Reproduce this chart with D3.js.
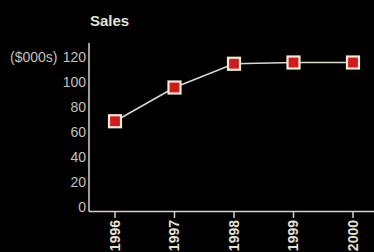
<!DOCTYPE html>
<meta charset="utf-8">
<script src="https://d3js.org/d3.v7.min.js"></script>
<style>
  body { margin: 0; background: #000; }
  text { font-family: "Liberation Sans", Arial, sans-serif; }
</style>
<body>
<div id="chart"></div>
<script>
  // data
  var years = ["1996", "1997", "1998", "1999", "2000"];
  var sales = [69, 96, 115, 116, 116];
  var yTicks = [0, 20, 40, 60, 80, 100, 120];

  var width = 374, height = 252;
  var ink = "#d6d3c4";

  var svg = d3.select("#chart").append("svg")
    .attr("width", width)
    .attr("height", height)
    .style("background", "#000");

  var x = d3.scalePoint()
    .domain(years)
    .range([115, 353]);

  var y = d3.scaleLinear()
    .domain([0, 120])
    .range([207.5, 57.5]);

  // title
  svg.append("text")
    .attr("x", 90)
    .attr("y", 26)
    .attr("fill", "#e4e1d4")
    .style("font-weight", "bold")
    .style("font-size", "15px")
    .text("Sales");

  // axis lines
  svg.append("line")
    .attr("x1", 89).attr("x2", 89)
    .attr("y1", 43).attr("y2", 211.5)
    .attr("stroke", ink).attr("stroke-width", 1.5);
  svg.append("line")
    .attr("x1", 89).attr("x2", width)
    .attr("y1", 211.5).attr("y2", 211.5)
    .attr("stroke", ink).attr("stroke-width", 1.5);

  // y labels
  svg.selectAll(".ylab")
    .data(yTicks)
    .enter().append("text")
    .attr("class", "ylab")
    .attr("x", 86)
    .attr("y", function(d) { return y(d); })
    .attr("dy", "0.35em")
    .attr("text-anchor", "end")
    .attr("fill", "#c4c2b8")
    .style("font-size", "14px")
    .text(function(d) { return d; });

  svg.append("text")
    .attr("x", 10)
    .attr("y", y(120))
    .attr("dy", "0.35em")
    .attr("fill", "#c4c2b8")
    .style("font-size", "14px")
    .text("($000s)");

  // x ticks and labels
  svg.selectAll(".xtick")
    .data(years)
    .enter().append("line")
    .attr("class", "xtick")
    .attr("x1", function(d) { return x(d); })
    .attr("x2", function(d) { return x(d); })
    .attr("y1", 211.5).attr("y2", 218)
    .attr("stroke", ink).attr("stroke-width", 1.5);

  svg.selectAll(".xlab")
    .data(years)
    .enter().append("text")
    .attr("class", "xlab")
    .attr("transform", function(d) { return "translate(" + x(d) + ",220) rotate(-90)"; })
    .attr("dy", "0.35em")
    .attr("text-anchor", "end")
    .attr("fill", "#e4e1d4")
    .style("font-weight", "bold")
    .style("font-size", "14px")
    .text(function(d) { return d; });

  // line
  var line = d3.line()
    .x(function(d, i) { return x(years[i]); })
    .y(function(d) { return y(d); });

  svg.append("path")
    .datum(sales)
    .attr("d", line)
    .attr("fill", "none")
    .attr("stroke", "#dcd9ca")
    .attr("stroke-width", 1.5);

  // markers
  svg.selectAll(".mark")
    .data(sales)
    .enter().append("rect")
    .attr("class", "mark")
    .attr("x", function(d, i) { return x(years[i]) - 6; })
    .attr("y", function(d) { return y(d) - 6; })
    .attr("width", 12)
    .attr("height", 12)
    .attr("fill", "#d31a1a")
    .attr("stroke", "#f0ead8")
    .attr("stroke-width", 2.2);
</script>
</body>
